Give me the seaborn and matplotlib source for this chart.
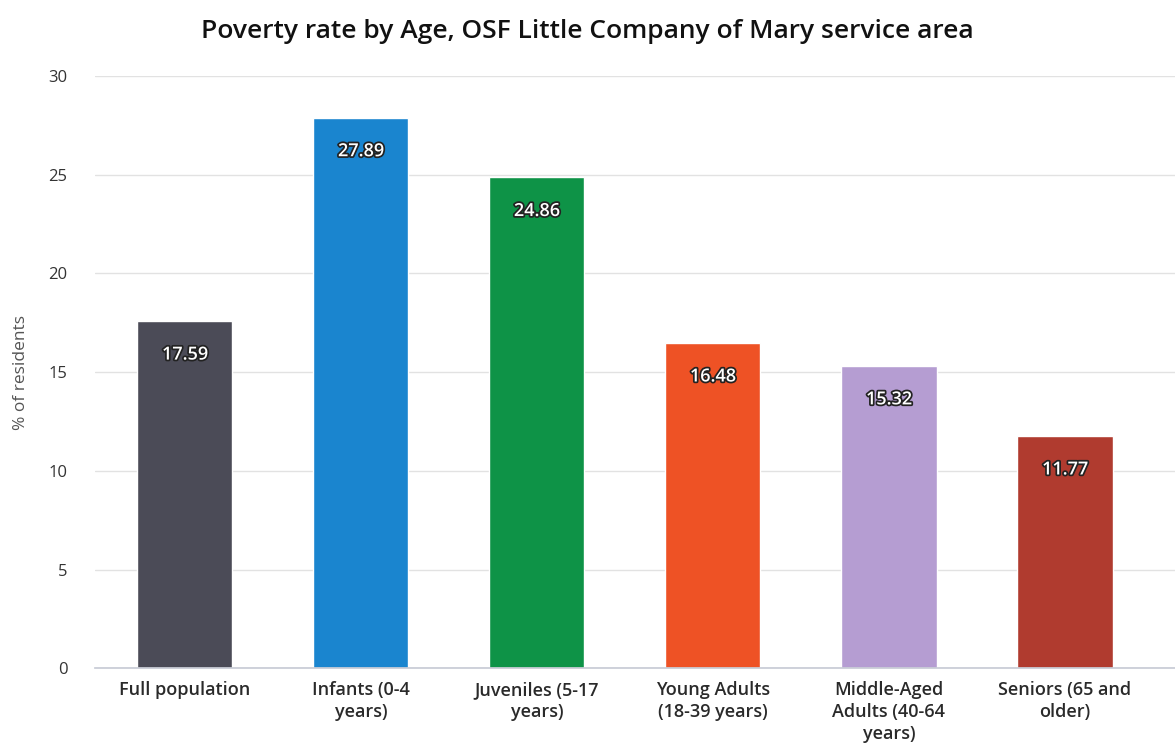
import matplotlib
matplotlib.use("Agg")
import matplotlib.pyplot as plt
import matplotlib.patheffects as pe
import seaborn as sns
import pandas as pd

categories = ["Full population", "Infants (0-4\nyears)", "Juveniles (5-17\nyears)",
              "Young Adults\n(18-39 years)", "Middle-Aged\nAdults (40-64\nyears)",
              "Seniors (65 and\nolder)"]
values = [17.59, 27.89, 24.86, 16.48, 15.32, 11.77]
colors = ["#4b4b57", "#1a85cf", "#0e9347", "#ee5225", "#b59dd2", "#b03b2f"]
yticks = [0, 5, 10, 15, 20, 25, 30]

sns.set_theme(style="white")
plt.rcParams['font.family'] = ['Open Sans', 'DejaVu Sans']

df = pd.DataFrame({"cat": categories, "val": values})
fig = plt.figure(figsize=(11.75, 7.56), dpi=100)
ax = fig.add_axes([0.081, 0.116, 0.919, 0.7835])
sns.barplot(data=df, x="cat", y="val", hue="cat", palette=colors, legend=False,
            width=0.54, ax=ax, saturation=1)
ax.set_ylim(0, 30)
ax.set_yticks(yticks)
ax.set_xlim(-0.51, 5.625)
ax.grid(axis="y", color="#e2e2e2", linewidth=1)
ax.set_axisbelow(True)
for s in ["top", "right", "left"]:
    ax.spines[s].set_visible(False)
ax.spines["bottom"].set_color("#c8ccd6")
ax.tick_params(axis="y", labelsize=12, colors="#333333", pad=20, length=0)
ax.tick_params(axis="x", labelsize=13, colors="#2a2a2a", pad=9, length=0)
for lab in ax.get_xticklabels():
    lab.set_fontweight("semibold")
    lab.set_linespacing(1.3)
ax.set_xlabel("")
ax.set_ylabel("% of residents", fontsize=12.5, color="#555555", labelpad=14)
fig.suptitle("Poverty rate by Age, OSF Little Company of Mary service area",
             fontsize=19, color="#111111", x=0.5, y=0.975, fontweight="semibold")

for i, v in enumerate(values):
    ax.text(i, v - 1.7, f"{v:.2f}", ha="center", va="center", fontsize=13,
            color="white", fontweight="semibold",
            path_effects=[pe.withStroke(linewidth=2.5, foreground="#222222")])

fig.savefig("out.png", dpi=100)
